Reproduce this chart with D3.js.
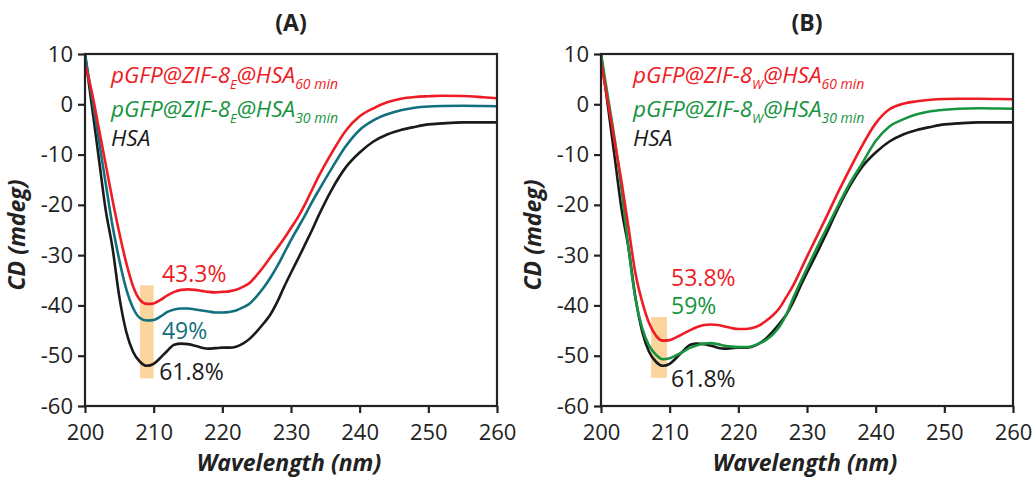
<!DOCTYPE html>
<html>
<head>
<meta charset="utf-8">
<script src="https://cdn.jsdelivr.net/npm/d3@7"></script>
<style>
  body { margin: 0; background: #fff; }
  svg text { font-family: "Open Sans", "DejaVu Sans", sans-serif; }
</style>
</head>
<body>
<svg id="chart" width="1035" height="477"></svg>
<script>
// ---- data ----
const wavelengths = [200,201,202,203,204,205,206,207,208,209,210,211,212,213,214,215,216,217,218,219,220,221,222,223,224,225,226,227,228,229,230,231,232,233,234,236,238,240,242,244,246,248,250,252,255,258,260];

const hsa = [10,-0.3,-10.6,-20.9,-28.5,-38.3,-45.2,-49.2,-51.2,-52.0,-51.6,-50.4,-49.0,-47.8,-47.6,-47.7,-48.0,-48.4,-48.6,-48.5,-48.4,-48.4,-48.2,-47.6,-46.6,-45.2,-43.6,-41.8,-39.3,-36.3,-33.5,-30.8,-28.0,-25.2,-22.2,-16.8,-12.5,-9.6,-7.4,-6.0,-5.1,-4.5,-4.0,-3.8,-3.6,-3.6,-3.6];

const e60 = [8.0,2.4,-4.7,-11.8,-19.0,-25.6,-31.5,-36.2,-38.9,-39.7,-39.6,-38.9,-38.0,-37.3,-36.9,-36.8,-36.9,-37.1,-37.3,-37.4,-37.3,-37.2,-36.9,-36.3,-35.5,-34.0,-32.3,-30.4,-28.6,-26.7,-24.6,-22.5,-20.0,-17.2,-14.4,-9.5,-5.2,-2.4,-0.8,0.4,1.1,1.45,1.6,1.7,1.65,1.4,1.2];

const e30 = [10,1.5,-7.0,-15.6,-24.1,-31.0,-36.7,-40.5,-42.5,-43.0,-42.9,-42.2,-41.3,-40.8,-40.6,-40.6,-40.8,-41.0,-41.2,-41.4,-41.4,-41.3,-41.0,-40.4,-39.6,-38.2,-36.5,-34.5,-32.2,-29.6,-27.0,-24.6,-22.2,-19.6,-17.2,-12.6,-8.3,-5.1,-3.2,-2.0,-1.2,-0.7,-0.45,-0.35,-0.3,-0.35,-0.4];

const w60 = [8.5,0.5,-7.5,-15.5,-24.5,-33.5,-39.3,-43.5,-46.0,-47.0,-46.9,-46.3,-45.6,-44.9,-44.3,-43.9,-43.8,-43.9,-44.2,-44.5,-44.7,-44.7,-44.5,-44.0,-43.1,-42.0,-40.5,-38.3,-36.0,-33.2,-30.3,-27.5,-24.7,-21.9,-19.0,-13.5,-8.3,-3.8,-1.0,0.1,0.6,0.9,1.05,1.1,1.1,1.05,1.0];

const w30 = [10,1.5,-7.0,-17.0,-28.5,-38.5,-44.5,-48.0,-49.8,-50.7,-50.5,-49.9,-49.2,-48.4,-47.9,-47.6,-47.5,-47.7,-48.0,-48.2,-48.3,-48.3,-48.1,-47.6,-46.9,-45.8,-44.2,-41.8,-38.5,-35.5,-32.6,-29.8,-27.0,-24.3,-21.6,-16.3,-11.8,-7.3,-4.4,-3.0,-2.0,-1.4,-1.1,-0.9,-0.8,-0.85,-0.9];

const xTicks = [200,210,220,230,240,250,260];
const yTicks = [10,0,-10,-20,-30,-40,-50,-60];

const panels = [
  { title: "(A)", sub: "E", left: 85,
    series: [ {vals: e60, color: "#ee1c25", min: "60 min"},
              {vals: e30, color: "#12707e", min: "30 min", legendColor: "#17943f"},
              {vals: hsa, color: "#1a1a1a"} ],
    band: [208, 210, -36, -54.5],
    notes: [ {t: "43.3%", w: 211.2, v: -35.3, c: "#ee1c25"},
             {t: "49%",   w: 211.2, v: -46.7, c: "#12707e"},
             {t: "61.8%", w: 210.8, v: -54.8, c: "#1a1a1a"} ] },
  { title: "(B)", sub: "W", left: 601,
    series: [ {vals: w60, color: "#ee1c25", min: "60 min"},
              {vals: w30, color: "#17943f", min: "30 min"},
              {vals: hsa, color: "#1a1a1a"} ],
    band: [207.3, 209.6, -42.3, -54.4],
    notes: [ {t: "53.8%", w: 210.2, v: -36.2, c: "#ee1c25"},
             {t: "59%",   w: 210.2, v: -41.8, c: "#17943f"},
             {t: "61.8%", w: 210.2, v: -56.2, c: "#1a1a1a"} ] }
];

// ---- drawing ----
const svg = d3.select("#chart");
const plotW = 412, plotTop = 54, plotBottom = 406;
const axisColor = "#222";
const fmt = d => String(d);

panels.forEach(p => {
  const x = d3.scaleLinear().domain([200, 260]).range([p.left, p.left + plotW]);
  const y = d3.scaleLinear().domain([-60, 10]).range([plotBottom, plotTop]);
  const g = svg.append("g");

  // highlight band
  g.append("rect")
    .attr("x", x(p.band[0])).attr("width", x(p.band[1]) - x(p.band[0]))
    .attr("y", y(p.band[2])).attr("height", y(p.band[3]) - y(p.band[2]))
    .attr("fill", "#fcd49e");

  // curves (HSA drawn first, 60 min on top)
  const line = d3.line().x((d, i) => x(wavelengths[i])).y(d => y(d)).curve(d3.curveMonotoneX);
  p.series.slice().reverse().forEach(s => {
    g.append("path").datum(s.vals).attr("d", line)
      .attr("fill", "none").attr("stroke", s.color).attr("stroke-width", 2.6)
      .attr("stroke-linejoin", "round");
  });

  // frame
  g.append("rect").attr("x", p.left).attr("y", plotTop).attr("width", plotW).attr("height", plotBottom - plotTop)
    .attr("fill", "none").attr("stroke", axisColor).attr("stroke-width", 2.2);

  // axes
  const xa = g.append("g").attr("transform", `translate(0,${plotBottom})`)
    .call(d3.axisBottom(x).tickValues(xTicks).tickSize(7).tickPadding(11).tickFormat(fmt));
  const ya = g.append("g").attr("transform", `translate(${p.left},0)`)
    .call(d3.axisLeft(y).tickValues(yTicks).tickSize(7).tickPadding(5).tickFormat(fmt));
  [xa, ya].forEach(a => {
    a.select(".domain").remove();
    a.selectAll(".tick line").attr("stroke", axisColor).attr("stroke-width", 2.2);
    a.selectAll(".tick text").attr("fill", "#222").style("font-size", "22px")
      .style("font-family", '"Open Sans", sans-serif');
  });

  // title
  g.append("text").attr("x", p.left + plotW / 2).attr("y", 31).attr("text-anchor", "middle")
    .style("font-size", "23px").style("font-weight", "bold").attr("fill", "#222").text(p.title);

  // axis titles
  g.append("text").attr("x", p.left + plotW / 2 - 2).attr("y", 471).attr("text-anchor", "middle")
    .style("font-size", "23px").style("font-weight", "bold").style("font-style", "italic")
    .attr("fill", "#222").text("Wavelength (nm)");
  g.append("text").attr("transform", `translate(${p.left - 60},${(plotTop + plotBottom) / 2 + 5}) rotate(-90)`)
    .attr("text-anchor", "middle")
    .style("font-size", "23px").style("font-weight", "bold").style("font-style", "italic")
    .attr("fill", "#222").text("CD (mdeg)");

  // legend
  const lx = p.left + (p.sub === "E" ? 26 : 32);
  const ly = [83, 117, 146];
  p.series.forEach((s, i) => {
    const t = g.append("text").attr("x", lx).attr("y", ly[i])
      .style("font-size", "22.5px").style("font-style", "italic")
      .attr("fill", s.legendColor || s.color);
    if (s.min) {
      t.append("tspan").text("pGFP@ZIF-8");
      t.append("tspan").attr("dy", 6).style("font-size", "13px").text(p.sub);
      t.append("tspan").attr("dy", -6).text("@HSA");
      t.append("tspan").attr("dy", 6).style("font-size", "14px").text(s.min);
    } else {
      t.text("HSA");
    }
  });

  // percentage annotations
  p.notes.forEach(n => {
    g.append("text").attr("x", x(n.w)).attr("y", y(n.v))
      .style("font-size", "23px").attr("fill", n.c).text(n.t);
  });
});
</script>
</body>
</html>
